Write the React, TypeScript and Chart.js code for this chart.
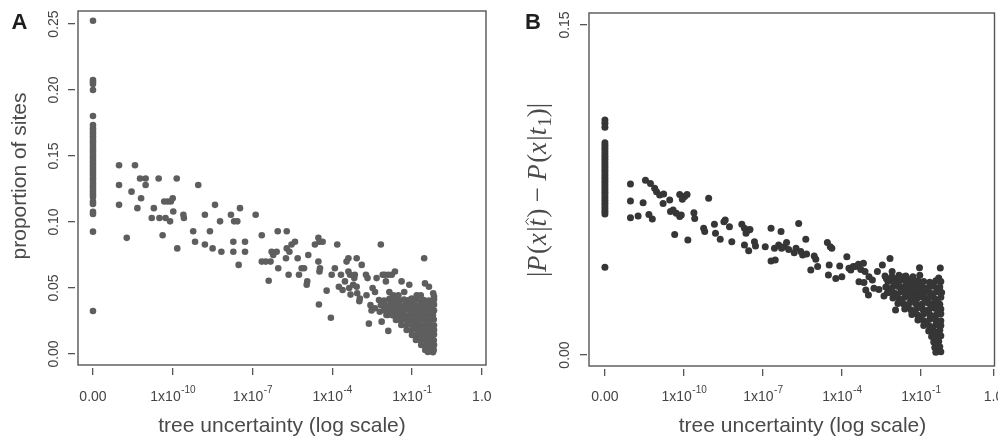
import React, { useEffect, useRef } from "react";
import { Chart, registerables } from "chart.js";

Chart.register(...registerables);

// ---------- data ----------
// log10(tree uncertainty); sites with zero uncertainty are drawn in the "0.00" column
const ZERO_POS = -13;
const xTickValuesA = [-13, -10, -7, -4, -1, 1.63];
const xTickValuesB = [-13, -10, -7, -4, -1, 1.76];
const xTickBase = ["0.00", "1x10", "1x10", "1x10", "1x10", "1.0"];
const xTickExp = ["", "-10", "-7", "-4", "-1", ""];
const yTicksA = [0, 0.05, 0.1, 0.15, 0.2, 0.25];
const yTickLabelsA = ["0.00", "0.05", "0.10", "0.15", "0.20", "0.25"];
const yTicksB = [0, 0.15];
const yTickLabelsB = ["0.00", "0.15"];

// panel A: proportion of sites, zero-uncertainty column
const zeroA = [
  0.2525, 0.2076, 0.2061, 0.2045, 0.2, 0.1803, 0.1735, 0.171, 0.169, 0.167, 0.165, 0.163, 0.161,
  0.159, 0.157, 0.155, 0.153, 0.151, 0.149, 0.147, 0.145, 0.143, 0.141, 0.139, 0.137, 0.135,
  0.133, 0.131, 0.129, 0.127, 0.125, 0.123, 0.121, 0.119, 0.1154, 0.1136, 0.1078, 0.1061,
  0.0927, 0.0326,
];
// panel A: [log10 uncertainty, proportion of sites]
const scatterA: [number, number][] = [
  [-12.02, 0.143], [-12.02, 0.128], [-12.02, 0.113], [-11.73, 0.088], [-11.55, 0.123], [-11.42, 0.143],
  [-11.33, 0.1105], [-11.19, 0.118], [-11.23, 0.133], [-11.02, 0.133], [-11.02, 0.128], [-10.79, 0.103],
  [-10.71, 0.1105], [-10.53, 0.133], [-10.5, 0.103], [-10.38, 0.09], [-10.32, 0.1155], [-10.27, 0.103],
  [-10.19, 0.1155], [-10.1, 0.1005], [-10.07, 0.1155], [-10.0, 0.118], [-9.98, 0.108], [-9.85, 0.133],
  [-9.83, 0.08], [-9.6, 0.1055], [-9.58, 0.103], [-9.23, 0.093], [-9.16, 0.085], [-9.04, 0.128],
  [-8.79, 0.1055], [-8.79, 0.083], [-8.6, 0.093], [-8.5, 0.08], [-8.41, 0.113], [-8.22, 0.1005],
  [-8.17, 0.0775], [-7.81, 0.1055], [-7.72, 0.085], [-7.72, 0.0775], [-7.69, 0.1005], [-7.57, 0.1005],
  [-7.52, 0.0675], [-7.47, 0.1105], [-7.28, 0.085], [-7.28, 0.0775], [-6.88, 0.1055], [-6.65, 0.09],
  [-6.65, 0.07], [-6.5, 0.07], [-6.39, 0.0555], [-6.32, 0.07], [-6.28, 0.0775], [-6.22, 0.075],
  [-6.09, 0.0775], [-6.03, 0.065], [-6.05, 0.093], [-5.71, 0.093], [-5.71, 0.08], [-5.74, 0.0725],
  [-5.64, 0.06], [-5.61, 0.0775], [-5.53, 0.083], [-5.4, 0.085], [-5.3, 0.0725], [-5.25, 0.06],
  [-5.15, 0.065], [-5.06, 0.065], [-4.96, 0.0525], [-4.94, 0.055], [-4.9, 0.075], [-4.65, 0.083],
  [-4.52, 0.088], [-4.48, 0.085], [-4.52, 0.07], [-4.48, 0.0625], [-4.46, 0.065], [-4.5, 0.0375],
  [-4.36, 0.085], [-4.21, 0.048], [-4.02, 0.06], [-4.05, 0.0275], [-3.9, 0.065], [-3.81, 0.083],
  [-3.75, 0.051], [-3.67, 0.06], [-3.61, 0.0485], [-3.52, 0.055], [-3.46, 0.07], [-3.39, 0.0725],
  [-3.39, 0.0625], [-3.33, 0.06], [-3.36, 0.05], [-3.31, 0.045], [-3.21, 0.0525], [-3.17, 0.0575],
  [-3.15, 0.06], [-3.08, 0.0725], [-3.08, 0.051], [-3.06, 0.046], [-2.98, 0.04], [-2.96, 0.042],
  [-2.89, 0.0675], [-2.73, 0.06], [-2.71, 0.0445], [-2.67, 0.0575], [-2.62, 0.023], [-2.56, 0.037],
  [-2.48, 0.05], [-2.39, 0.047], [-2.33, 0.0575], [-2.17, 0.083], [-2.14, 0.0245], [-2.1, 0.06],
  [-2.02, 0.06], [-1.98, 0.055], [-1.89, 0.06], [-1.85, 0.047], [-1.89, 0.0175], [-1.76, 0.06],
  [-1.64, 0.0625], [-1.83, 0.042], [-1.7, 0.0445], [-1.51, 0.0445], [-1.39, 0.055], [-1.29, 0.047],
  [-1.1, 0.0525], [-1.01, 0.042], [-0.82, 0.0445], [-0.67, 0.0445], [-0.54, 0.0725], [-0.51, 0.0535],
  [-0.36, 0.051],
  [-2.52, 0.033], [-2.39, 0.0346], [-2.21, 0.032], [-2.08, 0.0397], [-1.96, 0.0296], [-1.76, 0.032],
  [-1.64, 0.0409], [-0.2, 0.046], [-0.17, 0.0435],
  // dense cluster near 1x10^-1
  [-2.24, 0.0409], [-2.05, 0.0405], [-1.86, 0.0412], [-1.68, 0.0409], [-1.49, 0.0405], [-1.3, 0.0412],
  [-1.11, 0.0409], [-0.92, 0.0405], [-0.74, 0.0412], [-0.55, 0.0409], [-0.36, 0.0405], [-0.17, 0.0412],
  [-2.17, 0.0371], [-1.98, 0.0368], [-1.79, 0.0374], [-1.6, 0.0371], [-1.41, 0.0368], [-1.22, 0.0374],
  [-1.04, 0.0371], [-0.85, 0.0368], [-0.66, 0.0374], [-0.47, 0.0371], [-0.28, 0.0368], [-0.17, 0.0374],
  [-2.05, 0.0333], [-1.86, 0.033], [-1.68, 0.0336], [-1.49, 0.0333], [-1.3, 0.033], [-1.11, 0.0336],
  [-0.92, 0.0333], [-0.74, 0.033], [-0.55, 0.0336], [-0.36, 0.0333], [-0.17, 0.033],
  [-1.9, 0.0295], [-1.71, 0.0292], [-1.53, 0.0298], [-1.34, 0.0295], [-1.15, 0.0292], [-0.96, 0.0298],
  [-0.77, 0.0295], [-0.58, 0.0292], [-0.4, 0.0298], [-0.21, 0.0295],
  [-1.6, 0.0258], [-1.42, 0.0255], [-1.24, 0.0261], [-1.06, 0.0258], [-0.88, 0.0255], [-0.7, 0.0261],
  [-0.52, 0.0258], [-0.35, 0.0255], [-0.18, 0.0261],
  [-1.4, 0.022], [-1.22, 0.0217], [-1.04, 0.0223], [-0.86, 0.022], [-0.68, 0.0217], [-0.5, 0.0223],
  [-0.33, 0.022], [-0.17, 0.0217],
  [-1.2, 0.0182], [-1.02, 0.0179], [-0.84, 0.0185], [-0.66, 0.0182], [-0.48, 0.0179], [-0.31, 0.0185],
  [-0.17, 0.0182],
  [-1.0, 0.0144], [-0.83, 0.0141], [-0.66, 0.0147], [-0.49, 0.0144], [-0.32, 0.0141], [-0.17, 0.0147],
  [-0.85, 0.0106], [-0.68, 0.0103], [-0.51, 0.0109], [-0.34, 0.0106], [-0.18, 0.0103],
  [-0.65, 0.0068], [-0.48, 0.0065], [-0.32, 0.0071], [-0.17, 0.0068],
  [-0.5, 0.003], [-0.34, 0.0033], [-0.18, 0.003],
  [-0.4, 0.0015], [-0.21, 0.0013],
  // in-between points of the dense cluster
  [-1.95, 0.0352], [-1.58, 0.0352], [-1.2, 0.035], [-0.83, 0.0352], [-0.45, 0.035], [-1.77, 0.0314],
  [-1.4, 0.0312], [-1.02, 0.0314], [-0.65, 0.0312], [-0.28, 0.0314], [-1.44, 0.0276], [-1.06, 0.0277],
  [-0.68, 0.0276], [-0.3, 0.0277], [-1.13, 0.0239], [-0.77, 0.024], [-0.42, 0.0239], [-0.93, 0.02],
  [-0.57, 0.0201], [-0.25, 0.02], [-0.74, 0.0163], [-0.4, 0.0162], [-0.58, 0.0125], [-0.26, 0.0125],
  [-0.4, 0.0088], [-0.25, 0.005],
];

// panel B: |P(x|t^) - P(x|t1)|, zero-uncertainty column
const zeroB = [
  0.1068, 0.1053, 0.1035, 0.0965, 0.0952, 0.094, 0.0927, 0.0915, 0.0902, 0.089, 0.0877, 0.0865,
  0.0852, 0.084, 0.0827, 0.0815, 0.0802, 0.079, 0.0777, 0.0765, 0.0752, 0.074, 0.0727, 0.0715,
  0.0702, 0.069, 0.0677, 0.0665, 0.0652, 0.0641, 0.0399,
];
// panel B: [log10 uncertainty, difference]
const scatterB: [number, number][] = [
  [-12.03, 0.0777], [-12.03, 0.07], [-12.03, 0.0624], [-11.74, 0.0632], [-11.55, 0.0692], [-11.46, 0.0794],
  [-11.33, 0.0639], [-11.27, 0.078], [-11.2, 0.0618], [-11.11, 0.0758], [-11.04, 0.0742], [-10.92, 0.0727],
  [-10.79, 0.0689], [-10.77, 0.0732], [-10.54, 0.0705], [-10.51, 0.0652], [-10.41, 0.0659], [-10.35, 0.0548],
  [-10.29, 0.0644], [-10.16, 0.073], [-10.16, 0.0629], [-10.1, 0.0636], [-10.06, 0.0708], [-9.97, 0.072],
  [-9.88, 0.073], [-9.85, 0.0523], [-9.62, 0.0647], [-9.59, 0.0621], [-9.06, 0.0712], [-9.25, 0.0576],
  [-9.21, 0.0561], [-8.84, 0.0594], [-8.8, 0.0553], [-8.62, 0.0526], [-8.48, 0.0606], [-8.43, 0.0614],
  [-8.27, 0.0583], [-8.18, 0.0515], [-7.8, 0.0594], [-7.7, 0.0576], [-7.64, 0.0553], [-7.54, 0.0568],
  [-7.49, 0.0571], [-7.7, 0.05], [-7.54, 0.0474], [-7.32, 0.0515], [-7.28, 0.0495], [-6.91, 0.0492],
  [-6.69, 0.0576], [-6.69, 0.0427], [-6.56, 0.0485], [-6.53, 0.0432], [-6.4, 0.05], [-6.31, 0.0561],
  [-6.29, 0.0485], [-6.19, 0.0492], [-6.1, 0.0511], [-6.02, 0.048], [-5.81, 0.0465], [-5.74, 0.0485],
  [-5.64, 0.0598], [-5.56, 0.047], [-5.49, 0.0455], [-5.37, 0.0526], [-5.34, 0.0459], [-5.18, 0.0386],
  [-5.05, 0.045], [-4.99, 0.0435], [-4.92, 0.0402], [-4.55, 0.0511], [-4.44, 0.0492], [-4.38, 0.0485],
  [-4.48, 0.0409], [-4.51, 0.0364], [-4.23, 0.0348], [-4.08, 0.0405], [-4.0, 0.0356], [-3.81, 0.0447],
  [-3.73, 0.0394], [-3.66, 0.0386], [-3.57, 0.0402], [-3.47, 0.0402], [-3.37, 0.0412], [-3.28, 0.0389],
  [-3.18, 0.0417], [-3.12, 0.0379], [-3.35, 0.0333], [-3.16, 0.0329], [-3.09, 0.0295], [-2.99, 0.0273],
  [-2.97, 0.0356], [-2.84, 0.0341], [-2.78, 0.0303], [-2.65, 0.0379], [-2.59, 0.0298], [-2.46, 0.0409],
  [-2.4, 0.0268], [-2.31, 0.0348], [-2.17, 0.0439], [-2.27, 0.0283], [-2.09, 0.0379], [-2.02, 0.0333],
  [-1.96, 0.0205], [-1.9, 0.0348], [-1.83, 0.0311], [-1.64, 0.0356], [-1.52, 0.0348], [-1.33, 0.0326],
  [-1.05, 0.0397], [-1.2, 0.028], [-0.95, 0.0295], [-0.32, 0.035], [-0.26, 0.0395],
  // dense cluster near 1x10^-1
  [-2.36, 0.0359], [-2.1, 0.0356], [-1.83, 0.0362], [-1.57, 0.0359], [-1.3, 0.0356], [-1.04, 0.0362],
  [-2.25, 0.0334], [-2.02, 0.0331], [-1.8, 0.0337], [-1.57, 0.0334], [-1.34, 0.0331], [-1.11, 0.0337],
  [-0.89, 0.0334], [-0.66, 0.0331], [-0.43, 0.0337], [-0.24, 0.0334],
  [-2.33, 0.0309], [-2.1, 0.0306], [-1.87, 0.0312], [-1.64, 0.0309], [-1.42, 0.0306], [-1.19, 0.0312],
  [-0.96, 0.0309], [-0.74, 0.0306], [-0.51, 0.0312], [-0.28, 0.0309],
  [-2.21, 0.0284], [-1.99, 0.0281], [-1.76, 0.0287], [-1.53, 0.0284], [-1.3, 0.0281], [-1.08, 0.0287],
  [-0.85, 0.0284], [-0.62, 0.0281], [-0.4, 0.0287], [-0.21, 0.0284],
  [-2.06, 0.0259], [-1.83, 0.0256], [-1.61, 0.0262], [-1.38, 0.0259], [-1.15, 0.0256], [-0.93, 0.0262],
  [-0.7, 0.0259], [-0.47, 0.0256], [-0.24, 0.0262],
  [-1.87, 0.0234], [-1.64, 0.0231], [-1.42, 0.0237], [-1.19, 0.0234], [-0.96, 0.0231], [-0.74, 0.0237],
  [-0.51, 0.0234], [-0.28, 0.0231],
  [-1.61, 0.0209], [-1.38, 0.0206], [-1.15, 0.0212], [-0.93, 0.0209], [-0.7, 0.0206], [-0.47, 0.0212],
  [-0.24, 0.0209],
  [-1.34, 0.0184], [-1.11, 0.0181], [-0.89, 0.0187], [-0.66, 0.0184], [-0.43, 0.0181], [-0.24, 0.0187],
  [-1.11, 0.0159], [-0.89, 0.0156], [-0.66, 0.0162], [-0.43, 0.0159], [-0.24, 0.0156],
  [-0.89, 0.0134], [-0.66, 0.0131], [-0.43, 0.0137], [-0.24, 0.0134],
  [-0.7, 0.0109], [-0.47, 0.0106], [-0.28, 0.0112],
  [-0.59, 0.0084], [-0.4, 0.0081], [-0.24, 0.0087],
  [-0.51, 0.0059], [-0.32, 0.0062],
  [-0.47, 0.0034], [-0.28, 0.0037],
  [-0.43, 0.0012], [-0.24, 0.0015],
  // in-between points of the dense cluster
  [-1.95, 0.0322], [-1.48, 0.0321], [-1.0, 0.0322], [-0.55, 0.0321], [-2.1, 0.0296], [-1.65, 0.0297],
  [-1.18, 0.0296], [-0.72, 0.0297], [-0.35, 0.0296], [-1.9, 0.0271], [-1.45, 0.0272], [-0.99, 0.0271],
  [-0.55, 0.0272], [-1.73, 0.0246], [-1.27, 0.0247], [-0.83, 0.0246], [-0.38, 0.0247], [-1.5, 0.0221],
  [-1.05, 0.0222], [-0.6, 0.0221], [-1.22, 0.0196], [-0.8, 0.0197], [-0.35, 0.0196], [-1.0, 0.0171],
  [-0.55, 0.0172], [-0.78, 0.0146], [-0.33, 0.0147], [-0.55, 0.012], [-0.36, 0.0097], [-0.36, 0.0047],
];

// ---------- drawing ----------
const SANS = "'Liberation Sans', Arial, Helvetica, sans-serif";
const SERIF = "'Liberation Serif', 'DejaVu Serif', serif";

type PanelCfg = {
  letter: string;
  letterX: number;
  yTickBaseX: number;
  yTickLabels: string[];
  yTitle: string | null;
  yTitleX: number;
  yTitleY: number;
  xTitleX: number;
  gapL: number;
  gapB: number;
};

function drawMathTitle(ctx: CanvasRenderingContext2D, baseX: number, cy: number, targetLen: number) {
  const segs: { t: string; s: string; hat?: boolean }[] = [
    { t: "|", s: "r" }, { t: "P", s: "i" }, { t: "(", s: "r" }, { t: "x", s: "i" }, { t: "|", s: "r" },
    { t: "t", s: "i", hat: true }, { t: ")", s: "r" }, { t: " \u2212 ", s: "r" },
    { t: "P", s: "i" }, { t: "(", s: "r" }, { t: "x", s: "i" }, { t: "|", s: "r" }, { t: "t", s: "i" },
    { t: "1", s: "sub" }, { t: ")", s: "r" }, { t: "|", s: "r" },
  ];
  const fontFor = (s: string, size: number) =>
    s === "i" ? `italic ${size}px ${SERIF}` : s === "sub" ? `${size * 0.7}px ${SERIF}` : `${size}px ${SERIF}`;
  const segW = (g: { t: string; s: string }, size: number) => {
    ctx.font = fontFor(g.s, size);
    return ctx.measureText(g.t).width + (g.s === "i" ? size * 0.06 : 0);
  };
  const measure = (size: number) => segs.reduce((w, g) => w + segW(g, size), 0);
  const size = (20 * targetLen) / measure(20);
  const total = measure(size);
  ctx.save();
  ctx.translate(baseX, cy);
  ctx.rotate(-Math.PI / 2);
  ctx.textAlign = "left";
  ctx.textBaseline = "alphabetic";
  let x = -total / 2;
  for (const g of segs) {
    const w = segW(g, size);
    ctx.font = fontFor(g.s, size);
    ctx.fillText(g.t, x, g.s === "sub" ? size * 0.2 : 0);
    if (g.hat) {
      const cx = x + w * 0.55;
      const yb = -size * 0.66;
      ctx.beginPath();
      ctx.lineWidth = 1;
      ctx.moveTo(cx - size * 0.13, yb);
      ctx.lineTo(cx, yb - size * 0.11);
      ctx.lineTo(cx + size * 0.13, yb);
      ctx.stroke();
    }
    x += w;
  }
  ctx.restore();
}

function makePlugin(cfg: PanelCfg) {
  return {
    id: "panelDecor" + cfg.letter,
    afterDraw(chart: any) {
      const ctx: CanvasRenderingContext2D = chart.ctx;
      const ca = chart.chartArea;
      const xs = chart.scales.x;
      const ys = chart.scales.y;
      ctx.save();
      // box
      ctx.strokeStyle = "#555";
      ctx.lineWidth = 1.4;
      ctx.strokeRect(ca.left + cfg.gapL, ca.top, ca.right - ca.left - cfg.gapL, ca.bottom - cfg.gapB - ca.top);
      // panel letter
      ctx.fillStyle = "#1e1e1e";
      ctx.font = `bold 22px ${SANS}`;
      ctx.textAlign = "left";
      ctx.textBaseline = "alphabetic";
      ctx.fillText(cfg.letter, cfg.letterX, 28.5);
      // x tick labels
      ctx.fillStyle = "#444";
      const mainF = `14px ${SANS}`;
      const supF = `10px ${SANS}`;
      xs.ticks.forEach((t: any, i: number) => {
        const px = xs.getPixelForValue(t.value);
        const base = xTickBase[i];
        const exp = xTickExp[i];
        ctx.font = mainF;
        const wb = ctx.measureText(base).width;
        ctx.font = supF;
        const we = exp ? ctx.measureText(exp).width : 0;
        const x0 = px - (wb + we) / 2;
        ctx.font = mainF;
        ctx.fillText(base, x0, 401);
        if (exp) {
          ctx.font = supF;
          ctx.fillText(exp, x0 + wb + 0.5, 393);
        }
      });
      // y tick labels (rotated, R style)
      ctx.font = mainF;
      ys.ticks.forEach((t: any, i: number) => {
        const py = ys.getPixelForValue(t.value);
        ctx.save();
        ctx.translate(cfg.yTickBaseX, py);
        ctx.rotate(-Math.PI / 2);
        ctx.textAlign = "center";
        ctx.fillText(cfg.yTickLabels[i], 0, 0);
        ctx.restore();
      });
      // axis titles
      ctx.fillStyle = "#4a4a4a";
      ctx.strokeStyle = "#4a4a4a";
      ctx.font = `21px ${SANS}`;
      ctx.textAlign = "center";
      ctx.fillText("tree uncertainty (log scale)", cfg.xTitleX, 432);
      if (cfg.yTitle) {
        ctx.save();
        ctx.translate(cfg.yTitleX, cfg.yTitleY);
        ctx.rotate(-Math.PI / 2);
        ctx.textAlign = "center";
        ctx.fillText(cfg.yTitle, 0, 0);
        ctx.restore();
      } else {
        drawMathTitle(ctx, cfg.yTitleX, cfg.yTitleY, 174);
      }
      ctx.restore();
    },
  };
}

function buildChart(
  canvas: HTMLCanvasElement,
  zero: number[],
  pts: [number, number][],
  xTicks: number[],
  yTicks: number[],
  range: { xmin: number; xmax: number; ymin: number; ymax: number },
  padding: { left: number; right: number; top: number; bottom: number },
  color: string,
  radius: number,
  cfg: PanelCfg
) {
  const data = [
    ...zero.map((y) => ({ x: ZERO_POS, y })),
    ...pts.map(([x, y]) => ({ x, y })),
  ];
  const axisGrid = { drawOnChartArea: false, drawTicks: true, tickLength: 7, color: "#555", lineWidth: 1.3 };
  return new Chart(canvas, {
    type: "scatter",
    data: {
      datasets: [
        {
          data,
          backgroundColor: color,
          borderWidth: 0,
          pointRadius: radius,
          pointHoverRadius: radius,
        },
      ],
    },
    options: {
      animation: false,
      responsive: false,
      devicePixelRatio: 1,
      layout: { padding },
      plugins: { legend: { display: false }, tooltip: { enabled: false }, title: { display: false } },
      scales: {
        x: {
          type: "linear",
          min: range.xmin,
          max: range.xmax,
          afterBuildTicks: (s: any) => {
            s.ticks = xTicks.map((v) => ({ value: v }));
          },
          ticks: { display: false },
          grid: axisGrid,
          border: { display: false },
        },
        y: {
          type: "linear",
          min: range.ymin,
          max: range.ymax,
          afterBuildTicks: (s: any) => {
            s.ticks = yTicks.map((v) => ({ value: v }));
          },
          ticks: { display: false },
          grid: axisGrid,
          border: { display: false },
        },
      },
    },
    plugins: [makePlugin(cfg)],
  } as any);
}

export default function App() {
  const refA = useRef<HTMLCanvasElement>(null);
  const refB = useRef<HTMLCanvasElement>(null);

  useEffect(() => {
    const a = buildChart(
      refA.current!,
      zeroA,
      scatterA,
      xTickValuesA,
      yTicksA,
      { xmin: -13.677, xmax: 1.786, ymin: -0.01061, ymax: 0.25985 },
      { left: 68, right: 13, top: 11, bottom: 68 },
      "#5e5e5e",
      3.3,
      {
        letter: "A",
        letterX: 11.5,
        yTickBaseX: 57.5,
        yTickLabels: yTickLabelsA,
        yTitle: "proportion of sites",
        yTitleX: 26,
        yTitleY: 176,
        xTitleX: 282,
        gapL: 3,
        gapB: 3,
      }
    );
    const b = buildChart(
      refB.current!,
      zeroB,
      scatterB,
      xTickValuesB,
      yTicksB,
      { xmin: -13.681, xmax: 1.799, ymin: -0.00636, ymax: 0.15545 },
      { left: 81, right: 2, top: 13, bottom: 67 },
      "#363636",
      3.5,
      {
        letter: "B",
        letterX: 26,
        yTickBaseX: 70,
        yTickLabels: yTickLabelsB,
        yTitle: null,
        yTitleX: 47,
        yTitleY: 190,
        xTitleX: 303.5,
        gapL: 2,
        gapB: 3,
      }
    );
    return () => {
      a.destroy();
      b.destroy();
    };
  }, []);

  return (
    <div style={{ position: "fixed", left: 0, top: 0, width: 998, height: 443, background: "#fff", overflow: "hidden" }}>
      <canvas ref={refA} width={499} height={443} style={{ position: "absolute", left: 0, top: 0, width: 499, height: 443 }} />
      <canvas ref={refB} width={499} height={443} style={{ position: "absolute", left: 499, top: 0, width: 499, height: 443 }} />
    </div>
  );
}
